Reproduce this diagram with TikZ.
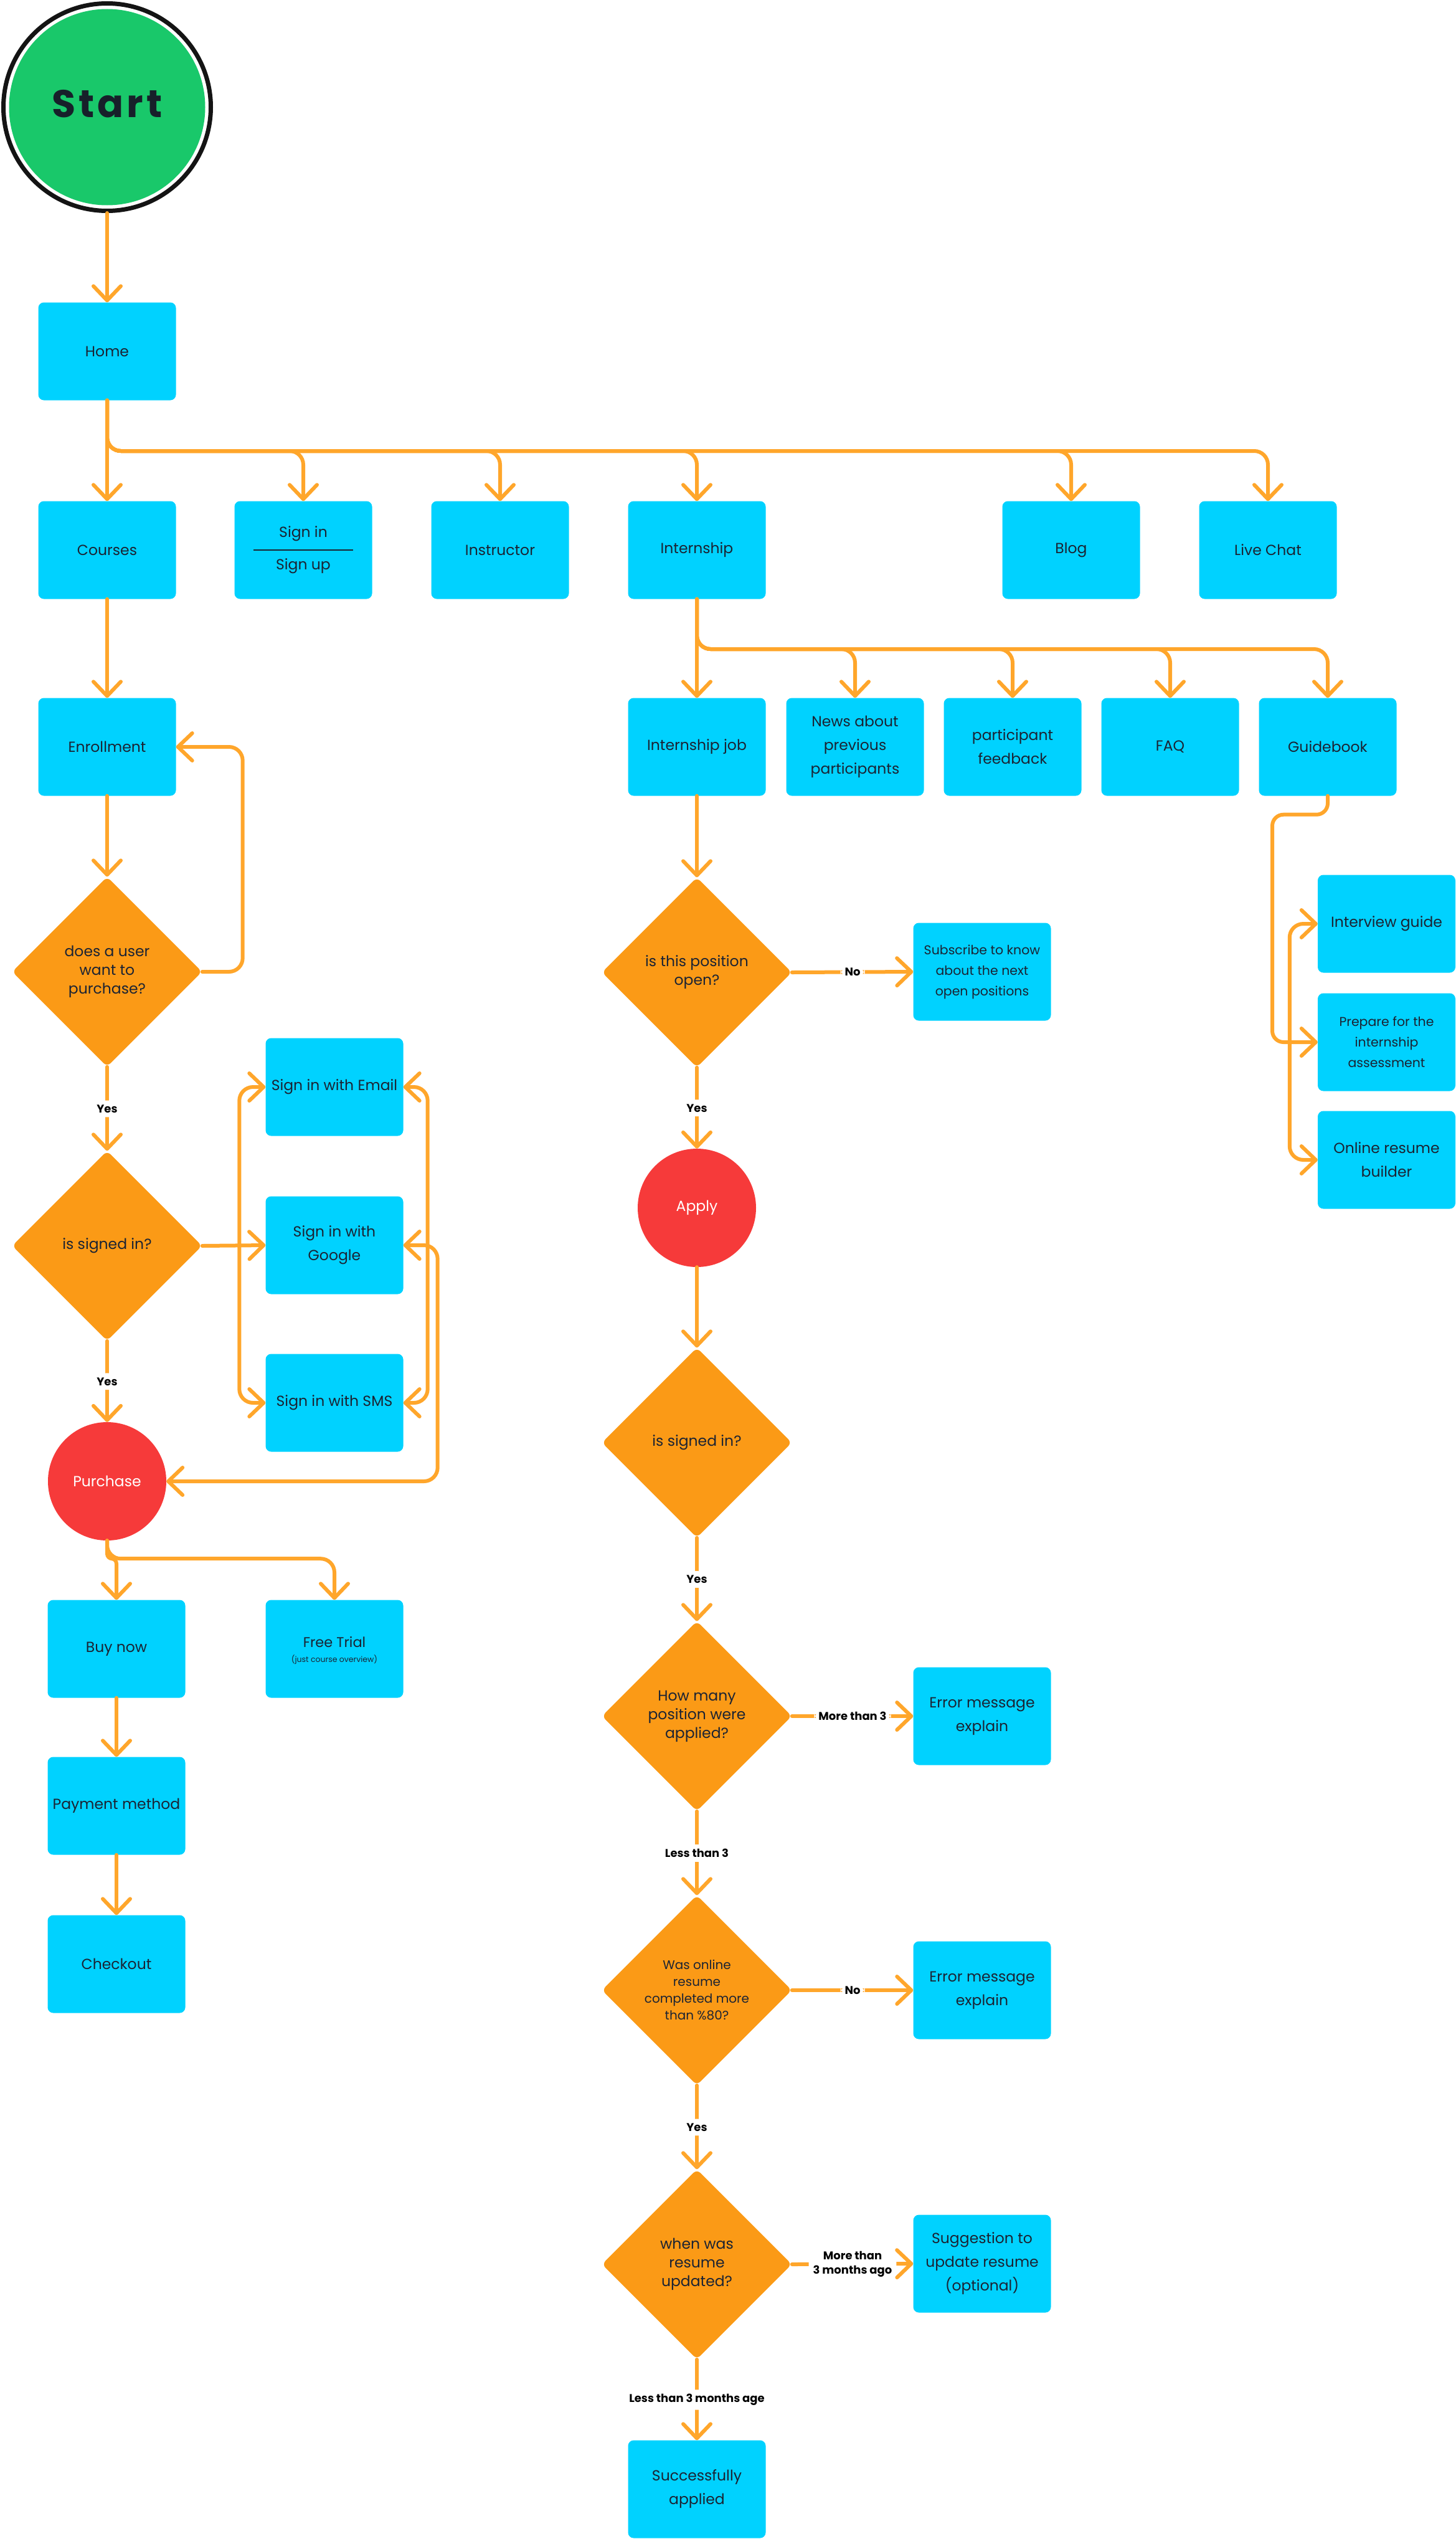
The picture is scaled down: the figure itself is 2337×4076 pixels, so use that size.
\documentclass[tikz,border=0pt]{standalone}
\usepackage{fontspec}
\setmainfont{Poppins}
\usetikzlibrary{arrows.meta,shapes.geometric}
\definecolor{boxc}{HTML}{00D2FF}
\definecolor{decc}{HTML}{FB9A16}
\definecolor{linec}{HTML}{FFA62B}
\definecolor{redc}{HTML}{F63A3A}
\definecolor{greenc}{HTML}{19C86A}
\definecolor{txt}{HTML}{1B2333}
\definecolor{starttxt}{HTML}{17202A}
\begin{document}
\begin{tikzpicture}[x=1pt,y=-1pt,
  >={Straight Barb[length=23pt,width=44pt,round]},
  box/.style={rectangle, fill=boxc, rounded corners=9pt, minimum width=221pt, minimum height=157pt, inner sep=0pt, align=center, text=txt, font=\fontsize{23.5}{38}\selectfont},
  dec/.style={diamond, aspect=1, fill=decc, minimum width=305pt, minimum height=305pt, inner sep=0pt, rounded corners=8pt, align=center, text=txt, font=\fontsize{23.5}{30}\selectfont},
  redcirc/.style={circle, fill=redc, minimum size=190pt, inner sep=0pt, text=white, font=\fontsize{23.5}{30}\selectfont},
  conn/.style={draw=linec, line width=6pt, rounded corners=22pt, line cap=round},
  lbl/.style={fill=white, inner sep=7pt, align=center, text=black, font=\bfseries\fontsize{18}{23}\selectfont},
  plain/.style={inner sep=0pt, text=txt, font=\fontsize{23.5}{30}\selectfont}
]
\useasboundingbox (0,0) rectangle (2337,4076);

% Start
\node[circle, draw=black!92, line width=7pt, fill=white, minimum size=333pt, inner sep=0pt] (start) at (172,172) {};
\node[circle, fill=greenc, minimum size=315pt, inner sep=0pt] (startin) at (172,172) {};
\node[text=starttxt, font=\bfseries\fontsize{62}{62}\selectfont\addfontfeature{LetterSpace=8}] (starttext) at (172,167) {Start};

% Row 1 and 2
\node[box] (home) at (172,564) {Home};
\node[box] (courses) at (172,883) {Courses};
\node[box] (signin) at (487,883) {};
\node[plain] (signintxt) at (487,857) {Sign in};
\node[plain] (signuptxt) at (487,909) {Sign up};
\draw[txt, line width=1.5pt] ([xshift=-80pt]signin.center) -- ([xshift=80pt]signin.center);
\node[box] (instr) at (803,883) {Instructor};
\node[box] (intern) at (1119,883) {Internship};
\node[box] (blog) at (1720,883) {Blog};
\node[box] (chat) at (2036,883) {Live Chat};

% Row 3
\node[box] (enroll) at (172,1199) {Enrollment};
\node[box] (ijob) at (1119,1199) {Internship job};
\node[box] (news) at (1373,1199) {News about\\previous\\participants};
\node[box] (feed) at (1626,1199) {participant\\feedback};
\node[box] (faq) at (1879,1199) {FAQ};
\node[box] (guide) at (2132,1199) {Guidebook};

% Left column
\node[dec] (d1) at (172,1560) {does a user\\want to\\purchase?};
\node[dec] (d2) at (172,2000) {is signed in?};
\node[box] (email) at (537,1745) {Sign in with Email};
\node[box] (google) at (537,1999) {Sign in with\\Google};
\node[box] (sms) at (537,2252) {Sign in with SMS};
\node[redcirc] (purch) at (172,2378) {Purchase};
\node[box] (buy) at (187,2647) {Buy now};
\node[box] (trial) at (537,2647) {};
\node[plain, font=\fontsize{22.5}{28}\selectfont] (trialtxt) at (537,2636) {Free Trial};
\node[plain, font=\fontsize{12.5}{15}\selectfont] (trialsub) at (537,2664) {(just course overview)};
\node[box] (pay) at (187,2899) {Payment method};
\node[box] (check) at (187,3153) {Checkout};

% Middle column
\node[dec] (d3) at (1119,1561) {is this position\\open?};
\node[box, font=\fontsize{20.5}{33}\selectfont] (subs) at (1577,1560) {Subscribe to know\\about the next\\open positions};
\node[redcirc] (apply) at (1119,1939) {Apply};
\node[dec] (d4) at (1119,2316) {is signed in?};
\node[dec] (d5) at (1119,2755) {How many\\position were\\applied?};
\node[box] (err1) at (1577,2755) {Error message\\explain};
\node[dec, font=\fontsize{20}{27}\selectfont] (d6) at (1119,3195) {Was online\\resume\\completed more\\than \%80?};
\node[box] (err2) at (1577,3195) {Error message\\explain};
\node[dec] (d7) at (1119,3635) {when was\\resume\\updated?};
\node[box] (sugg) at (1577,3634) {Suggestion to\\update resume\\(optional)};
\node[box] (succ) at (1119,3996) {Successfully\\applied};

% Guidebook children
\node[box] (intv) at (2226.5,1483) {Interview guide};
\node[box, font=\fontsize{20.5}{33}\selectfont] (prep) at (2226.5,1673) {Prepare for the\\internship\\assessment};
\node[box] (resume) at (2226.5,1862) {Online resume\\builder};

% Connectors
\coordinate (hbus) at (0,724);
\coordinate (ibus) at (0,1042);
\draw[conn,->] (start.south) -- (home.north);
\draw[conn,->] (home.south) -- (courses.north);
\foreach \n in {signin,instr,intern,blog,chat}
  \draw[conn,->] (home.south) -- (home.south |- hbus) -| (\n.north);
\draw[conn,->] (intern.south) -- (ijob.north);
\foreach \n in {news,feed,faq,guide}
  \draw[conn,->] (intern.south) -- (intern.south |- ibus) -| (\n.north);

\draw[conn,->] (courses.south) -- (enroll.north);
\draw[conn,->] (enroll.south) -- (d1.north);
\draw[conn,->] (d1.east) -- ++(65,0) |- (enroll.east);
\draw[conn,->] (d1.south) -- node[lbl]{Yes} (d2.north);
\draw[conn,->] (d2.east) -- (google.west);
\draw[conn,<->] (email.west) -- ++(-42,0) |- (sms.west);
\draw[conn,<->] (email.east) -- ++(39,0) |- (sms.east);
\draw[conn,<->] (google.east) -- ++(55,0) |- (purch.east);
\draw[conn,->] (d2.south) -- node[lbl]{Yes} (purch.north);
\draw[conn,->,rounded corners=8pt] (purch.south) -- ++(0,29) -| (buy.north);
\draw[conn,->] (purch.south) -- ++(0,29) -| (trial.north);
\draw[conn,->] (buy.south) -- (pay.north);
\draw[conn,->] (pay.south) -- (check.north);

\draw[conn,->] (ijob.south) -- (d3.north);
\draw[conn,->] (d3.east) -- node[lbl]{No} (subs.west);
\draw[conn,->] (d3.south) -- node[lbl]{Yes} (apply.north);
\draw[conn,->] (apply.south) -- (d4.north);
\draw[conn,->] (d4.south) -- node[lbl]{Yes} (d5.north);
\draw[conn,->] (d5.east) -- node[lbl]{More than 3} (err1.west);
\draw[conn,->] (d5.south) -- node[lbl]{Less than 3} (d6.north);
\draw[conn,->] (d6.east) -- node[lbl]{No} (err2.west);
\draw[conn,->] (d6.south) -- node[lbl]{Yes} (d7.north);
\draw[conn,->] (d7.east) -- node[lbl]{More than\\3 months ago} (sugg.west);
\draw[conn,->] (d7.south) -- node[lbl]{Less than 3 months age} (succ.north);

\draw[conn,->,rounded corners=18pt] (guide.south) -- ++(0,30) -- ++(-89,0) |- (prep.west);
\draw[conn,<->] (intv.west) -- ++(-45,0) |- (resume.west);
\end{tikzpicture}
\end{document}
